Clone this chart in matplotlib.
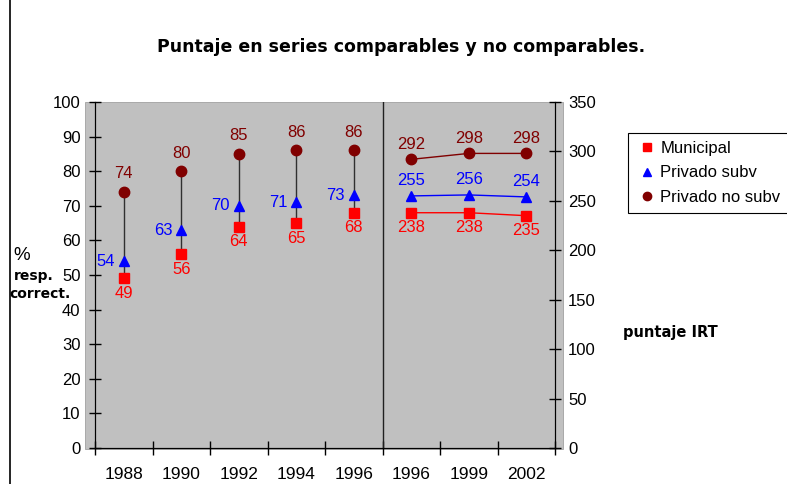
"""
Puntaje en series comparables y no comparables: % resp. correct. on the left
axis (1988-1996) and puntaje IRT on the right axis (1996-2002).
"""

import matplotlib
matplotlib.use("Agg")
import matplotlib.pyplot as plt
from matplotlib.patches import Rectangle
from matplotlib.lines import Line2D

# ---------------------------------------------------------------------------
# Data
# ---------------------------------------------------------------------------
YEARS = ["1988", "1990", "1992", "1994", "1996", "1996", "1999", "2002"]
N_PCT = 5  # first five categories use the % axis, the rest the IRT axis

MUNICIPAL = [49, 56, 64, 65, 68, 238, 238, 235]
PRIV_SUBV = [54, 63, 70, 71, 73, 255, 256, 254]
PRIV_NO_SUBV = [74, 80, 85, 86, 86, 292, 298, 298]

SERIES_NAMES = ["Municipal", "Privado subv", "Privado no subv"]

# ---------------------------------------------------------------------------
# Style
# ---------------------------------------------------------------------------
RED = "#FF0000"
BLUE = "#0000FF"
MAROON = "#800000"
BG = "#C0C0C0"
FONT = ["Liberation Sans", "DejaVu Sans"]
BOLD_FONT = ["DejaVu Sans"]

plt.rcParams["font.family"] = FONT

W, H = 787, 484
fig = plt.figure(figsize=(W / 100, H / 100), dpi=100)

# axes rectangle in pixels (left spine x=95, right spine x=555, y 102..448)
x0, x1, y0, y1 = 95, 555, 102, 448
ax = fig.add_axes([x0 / W, 1 - y1 / H, (x1 - x0) / W, (y1 - y0) / H])
ax2 = ax.twinx()

# gray plot area is a bit wider than the axes
fig.patches.append(Rectangle((85 / W, 1 - 449 / H), (563 - 85) / W, (449 - 102) / H,
                             transform=fig.transFigure, facecolor=BG,
                             edgecolor="#A0A0A0", linewidth=0.6, zorder=-5))
ax.set_facecolor("none")
ax2.set_facecolor("none")

# chart frame edge on the far left
fig.add_artist(Line2D([10 / W, 10 / W], [0, 1], transform=fig.transFigure,
                      color="black", linewidth=1.2))

xs = list(range(len(YEARS)))
xs_l, xs_r = xs[:N_PCT], xs[N_PCT:]

# high-low lines on the % part
ax.vlines(xs_l, MUNICIPAL[:N_PCT], PRIV_NO_SUBV[:N_PCT], color="#303030",
          linewidth=1.0, zorder=2)

mk = dict(linestyle="none", zorder=3)
ax.plot(xs_l, MUNICIPAL[:N_PCT], marker="s", color=RED, markersize=7, **mk)
ax.plot(xs_l, PRIV_SUBV[:N_PCT], marker="^", color=BLUE, markersize=7.5, **mk)
ax.plot(xs_l, PRIV_NO_SUBV[:N_PCT], marker="o", color=MAROON, markersize=7.5, **mk)

ax2.plot(xs_r, MUNICIPAL[N_PCT:], marker="s", color=RED, markersize=7,
         linewidth=1.0, zorder=3)
ax2.plot(xs_r, PRIV_SUBV[N_PCT:], marker="^", color=BLUE, markersize=7.5,
         linewidth=1.0, zorder=3)
ax2.plot(xs_r, PRIV_NO_SUBV[N_PCT:], marker="o", color=MAROON, markersize=7.5,
         linewidth=1.0, zorder=3)

# data labels
lab = dict(textcoords="offset points", fontsize=12, ha="center", va="center")
for i in xs_l:
    ax.annotate(str(PRIV_NO_SUBV[i]), (i, PRIV_NO_SUBV[i]), xytext=(0, 13), color=MAROON, **lab)
    ax.annotate(str(PRIV_SUBV[i]), (i, PRIV_SUBV[i]), xytext=(-13, 0), color=BLUE, **lab)
    ax.annotate(str(MUNICIPAL[i]), (i, MUNICIPAL[i]), xytext=(0, -11), color=RED, **lab)
for i in xs_r:
    ax2.annotate(str(PRIV_NO_SUBV[i]), (i, PRIV_NO_SUBV[i]), xytext=(0, 11), color=MAROON, **lab)
    ax2.annotate(str(PRIV_SUBV[i]), (i, PRIV_SUBV[i]), xytext=(0, 11), color=BLUE, **lab)
    ax2.annotate(str(MUNICIPAL[i]), (i, MUNICIPAL[i]), xytext=(0, -11), color=RED, **lab)

# separator between comparable / non comparable series
ax.axvline(N_PCT - 0.5, color="#202020", linewidth=1.0, zorder=2)

# axes
ax.set_xlim(-0.5, len(YEARS) - 0.5)
ax.set_ylim(0, 100)
ax2.set_ylim(0, 350)
ax.set_yticks(range(0, 101, 10))
ax2.set_yticks(range(0, 351, 50))
ax.set_xticks([i - 0.5 for i in range(len(YEARS) + 1)])
ax.set_xticklabels([])
ax.set_xticks(xs, minor=True)
ax.set_xticklabels(YEARS, minor=True)

for a in (ax, ax2):
    for s in a.spines.values():
        s.set_color("black")
    a.spines["top"].set_visible(False)
ax.tick_params(axis="y", direction="inout", length=9, width=1, pad=6, labelsize=12)
ax2.tick_params(axis="y", direction="inout", length=9, width=1, pad=5, labelsize=12)
ax.tick_params(axis="x", which="major", direction="inout", length=10, width=1)
ax.tick_params(axis="x", which="minor", length=0, pad=14, labelsize=12.5)

# titles and axis texts
fig.text(401 / W, 1 - 47 / H, "Puntaje en series comparables y no comparables.",
         ha="center", va="center", fontsize=12.5, fontweight="bold", family=BOLD_FONT)
fig.text(22 / W, 1 - 256 / H, "%", ha="center", va="center", fontsize=13.5)
fig.text(34 / W, 1 - 276 / H, "resp.", ha="center", va="center", fontsize=10,
         fontweight="bold", family=BOLD_FONT)
fig.text(40 / W, 1 - 294 / H, "correct.", ha="center", va="center", fontsize=10,
         fontweight="bold", family=BOLD_FONT)
fig.text(670 / W, 1 - 333 / H, "puntaje IRT", ha="center", va="center", fontsize=10.5,
         fontweight="bold", family=BOLD_FONT)

# legend (markers only), box runs past the right edge like the original
handles = [
    Line2D([], [], linestyle="none", marker="s", color=RED, markersize=6),
    Line2D([], [], linestyle="none", marker="^", color=BLUE, markersize=6),
    Line2D([], [], linestyle="none", marker="o", color=MAROON, markersize=6),
]
leg = fig.legend(handles, SERIES_NAMES, loc="upper left",
                 bbox_to_anchor=(628 / W, 1 - 133 / H), fontsize=12,
                 frameon=True, fancybox=False, edgecolor="black", framealpha=1,
                 handlelength=1.3, handletextpad=0.15, borderpad=0.5,
                 labelspacing=0.55, borderaxespad=0)
leg.get_frame().set_linewidth(0.8)

fig.savefig("out.png", dpi=100)
